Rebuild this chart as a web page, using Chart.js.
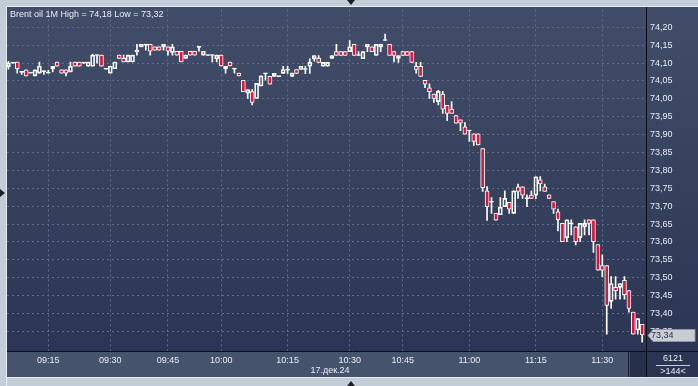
<!DOCTYPE html>
<html>
<head>
<meta charset="utf-8">
<script src="https://cdn.jsdelivr.net/npm/chart.js@4.4.1/dist/chart.umd.min.js"></script>
<style>
  html, body { margin: 0; padding: 0; background: #c3cdd9; }
  #wrap { width: 698px; height: 386px; position: relative; }
</style>
</head>
<body>
<div id="wrap"><canvas id="chart" width="698" height="386"></canvas></div>
<script>
// Brent oil, 1 minute candles, 17 Dec 2024
const opens = [
  74.090, 74.100, 74.103, 74.075, 74.081, 74.073, 74.064, 74.072, 74.077, 74.072,
  74.084, 74.103, 74.081, 74.081, 74.075, 74.103, 74.103, 74.100, 74.091, 74.091,
  74.122, 74.122, 74.084, 74.072, 74.084, 74.122, 74.113, 74.103, 74.103, 74.131,
  74.145, 74.152, 74.152, 74.145, 74.145, 74.145, 74.145, 74.130, 74.133, 74.133,
  74.113, 74.133, 74.133, 74.145, 74.122, 74.122, 74.122, 74.112, 74.122, 74.084,
  74.103, 74.084, 74.072, 74.052, 74.016, 74.020, 74.001, 74.036, 74.071, 74.063,
  74.063, 74.063, 74.071, 74.080, 74.063, 74.082, 74.082, 74.082, 74.091, 74.112,
  74.113, 74.091, 74.091, 74.113, 74.132, 74.132, 74.132, 74.132, 74.152, 74.121,
  74.112, 74.145, 74.145, 74.121, 74.145, 74.163, 74.152, 74.132, 74.113, 74.132,
  74.132, 74.132, 74.091, 74.091, 74.052, 74.031, 74.013, 73.992, 74.013, 73.982,
  73.971, 73.953, 73.941, 73.922, 73.911, 73.902, 73.902, 73.861, 73.743, 73.712,
  73.680, 73.676, 73.699, 73.711, 73.680, 73.754, 73.754, 73.722, 73.731, 73.731,
  73.774, 73.754, 73.732, 73.713, 73.684, 73.652, 73.612, 73.652, 73.642, 73.612,
  73.642, 73.662, 73.662, 73.593, 73.534, 73.534, 73.434, 73.473, 73.473, 73.493,
  73.464, 73.404, 73.354, 73.370
];
const highs = [
  74.105, 74.101, 74.103, 74.076, 74.081, 74.073, 74.081, 74.103, 74.077, 74.080,
  74.091, 74.103, 74.081, 74.081, 74.103, 74.103, 74.103, 74.100, 74.103, 74.125,
  74.122, 74.122, 74.084, 74.091, 74.103, 74.122, 74.122, 74.122, 74.122, 74.152,
  74.152, 74.152, 74.152, 74.145, 74.145, 74.152, 74.145, 74.152, 74.133, 74.133,
  74.122, 74.133, 74.133, 74.145, 74.133, 74.122, 74.122, 74.122, 74.122, 74.091,
  74.103, 74.084, 74.072, 74.052, 74.026, 74.026, 74.043, 74.064, 74.071, 74.063,
  74.071, 74.063, 74.091, 74.091, 74.072, 74.082, 74.091, 74.091, 74.112, 74.121,
  74.121, 74.102, 74.102, 74.121, 74.152, 74.132, 74.132, 74.163, 74.152, 74.132,
  74.132, 74.152, 74.145, 74.152, 74.152, 74.181, 74.152, 74.132, 74.121, 74.132,
  74.132, 74.132, 74.102, 74.102, 74.052, 74.042, 74.013, 74.024, 74.021, 73.982,
  73.992, 73.953, 73.941, 73.934, 73.911, 73.902, 73.902, 73.861, 73.755, 73.724,
  73.680, 73.724, 73.743, 73.711, 73.743, 73.762, 73.754, 73.732, 73.743, 73.782,
  73.783, 73.762, 73.732, 73.713, 73.692, 73.652, 73.662, 73.662, 73.642, 73.652,
  73.662, 73.662, 73.662, 73.593, 73.564, 73.534, 73.503, 73.503, 73.484, 73.503,
  73.464, 73.404, 73.386, 73.370
];
const lows = [
  74.083, 74.099, 74.072, 74.068, 74.064, 74.072, 74.064, 74.072, 74.068, 74.072,
  74.075, 74.091, 74.072, 74.064, 74.075, 74.091, 74.091, 74.100, 74.091, 74.091,
  74.100, 74.091, 74.083, 74.072, 74.084, 74.113, 74.103, 74.103, 74.103, 74.122,
  74.145, 74.136, 74.122, 74.136, 74.136, 74.136, 74.122, 74.122, 74.122, 74.103,
  74.113, 74.122, 74.122, 74.133, 74.122, 74.121, 74.103, 74.103, 74.092, 74.072,
  74.092, 74.072, 74.064, 74.020, 74.001, 73.983, 74.001, 74.036, 74.052, 74.041,
  74.063, 74.062, 74.071, 74.071, 74.063, 74.071, 74.082, 74.070, 74.071, 74.105,
  74.102, 74.091, 74.091, 74.113, 74.121, 74.121, 74.121, 74.132, 74.121, 74.121,
  74.112, 74.132, 74.132, 74.121, 74.132, 74.163, 74.121, 74.103, 74.102, 74.121,
  74.121, 74.102, 74.072, 74.063, 74.031, 74.001, 73.990, 73.983, 73.959, 73.939,
  73.959, 73.932, 73.911, 73.901, 73.881, 73.870, 73.871, 73.741, 73.660, 73.680,
  73.661, 73.676, 73.699, 73.680, 73.680, 73.722, 73.722, 73.699, 73.722, 73.721,
  73.743, 73.741, 73.722, 73.680, 73.631, 73.601, 73.601, 73.620, 73.592, 73.601,
  73.620, 73.620, 73.571, 73.521, 73.503, 73.342, 73.414, 73.440, 73.440, 73.440,
  73.404, 73.342, 73.342, 73.320
];
const closes = [
  74.100, 74.101, 74.084, 74.074, 74.064, 74.072, 74.081, 74.091, 74.076, 74.073,
  74.091, 74.091, 74.072, 74.072, 74.091, 74.091, 74.091, 74.101, 74.103, 74.122,
  74.121, 74.091, 74.083, 74.091, 74.103, 74.113, 74.103, 74.122, 74.122, 74.136,
  74.152, 74.150, 74.133, 74.136, 74.136, 74.152, 74.133, 74.145, 74.122, 74.103,
  74.122, 74.122, 74.122, 74.144, 74.133, 74.121, 74.121, 74.122, 74.092, 74.091,
  74.092, 74.083, 74.064, 74.020, 74.026, 73.990, 74.043, 74.064, 74.070, 74.041,
  74.071, 74.062, 74.082, 74.082, 74.072, 74.071, 74.091, 74.083, 74.102, 74.121,
  74.102, 74.102, 74.102, 74.121, 74.121, 74.121, 74.121, 74.145, 74.121, 74.122,
  74.132, 74.152, 74.132, 74.152, 74.152, 74.164, 74.121, 74.121, 74.121, 74.121,
  74.121, 74.102, 74.082, 74.063, 74.041, 74.020, 74.001, 74.021, 73.971, 73.959,
  73.959, 73.932, 73.932, 73.901, 73.910, 73.881, 73.871, 73.752, 73.699, 73.711,
  73.661, 73.697, 73.722, 73.692, 73.743, 73.741, 73.731, 73.721, 73.722, 73.782,
  73.762, 73.741, 73.722, 73.692, 73.662, 73.601, 73.662, 73.651, 73.601, 73.652,
  73.652, 73.652, 73.601, 73.521, 73.521, 73.423, 73.484, 73.464, 73.484, 73.453,
  73.414, 73.342, 73.386, 73.340
];

// x ticks sit on the bar index of each quarter hour
const tickIndex = [9, 23, 36, 48, 63, 77, 89, 104, 119, 134];
const tickLabels = ['09:15', '09:30', '09:45', '10:00', '10:15', '10:30', '10:45', '11:00', '11:15', '11:30'];
const yTicks = [73.35, 73.40, 73.45, 73.50, 73.55, 73.60, 73.65, 73.70, 73.75, 73.80,
  73.85, 73.90, 73.95, 74.00, 74.05, 74.10, 74.15, 74.20];

const titleText = 'Brent oil 1M High = 74,18 Low = 73,32';
const dateLabel = '17.дек.24';
const volumeText = '6121';
const barsText = '>144<';

const fmt = v => v.toFixed(2).replace('.', ',');

const bodies = opens.map((o, i) => ({ x: i, y: [Math.min(o, closes[i]), Math.max(o, closes[i])] }));
const upperWicks = opens.map((o, i) => ({ x: i, y: [Math.max(o, closes[i]), highs[i]] }));
const lowerWicks = opens.map((o, i) => ({ x: i, y: [lows[i], Math.min(o, closes[i])] }));
const bodyColors = opens.map((o, i) => {
  if (Math.abs(closes[i] - o) < 0.0025) return '#ffffff';
  return closes[i] < o ? '#dc143c' : 'rgba(0,0,0,0)';
});

const FONT = 'Arial, "Liberation Sans", sans-serif';
Chart.defaults.font.family = FONT;
Chart.defaults.font.size = 9;

const framePlugin = {
  id: 'frame',
  beforeDraw(chart) {
    const c = chart.ctx;
    const a = chart.chartArea;
    c.save();
    c.fillStyle = '#c3cdd9';
    c.fillRect(0, 0, 698, 386);
    // panel
    const g = c.createLinearGradient(0, 7, 0, 377);
    g.addColorStop(0, '#414d69');
    g.addColorStop(1, '#2a3452');
    c.fillStyle = g;
    c.fillRect(7, 7, 691, 370);
    // time strip
    c.fillStyle = '#46536c';
    c.fillRect(7, a.bottom, a.right - 7, 377 - a.bottom);
    c.fillStyle = '#26304a';
    c.fillRect(630, a.bottom + 1, 16, 377 - a.bottom - 1);
    c.strokeStyle = '#1a2030';
    c.lineWidth = 1;
    c.beginPath(); c.moveTo(628.5, a.bottom); c.lineTo(628.5, 377); c.stroke();
    // light edge
    c.strokeStyle = '#e6ecf2';
    c.beginPath(); c.moveTo(6.5, 386); c.lineTo(6.5, 6.5); c.lineTo(698, 6.5); c.stroke();
    c.beginPath(); c.moveTo(6.5, 377.5); c.lineTo(698, 377.5); c.stroke();
    c.restore();
  },
  afterDraw(chart) {
    const c = chart.ctx;
    const a = chart.chartArea;
    const y = chart.scales.y;
    c.save();
    // separators
    c.strokeStyle = '#0b0e16';
    c.lineWidth = 1;
    c.beginPath(); c.moveTo(a.right + 0.5, 7); c.lineTo(a.right + 0.5, 377); c.stroke();
    c.beginPath(); c.moveTo(7, a.bottom + 0.5); c.lineTo(698, a.bottom + 0.5); c.stroke();
    // title
    c.fillStyle = '#e8edf3';
    c.font = '9px ' + FONT;
    c.textBaseline = 'middle';
    c.textAlign = 'left';
    c.fillText(titleText, 10, 14.5);
    // date under the time axis
    c.textAlign = 'center';
    c.fillText(dateLabel, 330, 371);
    // bottom right box
    c.fillText(volumeText, 673, 359);
    c.fillText(barsText, 673, 372);
    c.strokeStyle = '#c8d0dc';
    c.beginPath(); c.moveTo(656, 365.5); c.lineTo(690, 365.5); c.stroke();
    // last price marker
    const last = closes[closes.length - 1];
    const py = Math.round(y.getPixelForValue(last)) + 0.5;
    c.fillStyle = '#c9cdd3';
    c.strokeStyle = '#8c96a6';
    c.beginPath();
    c.moveTo(a.right + 2, py);
    c.lineTo(a.right + 7, py - 6);
    c.lineTo(695, py - 6);
    c.lineTo(695, py + 6);
    c.lineTo(a.right + 7, py + 6);
    c.closePath();
    c.fill(); c.stroke();
    c.fillStyle = '#27324c';
    c.textAlign = 'left';
    c.fillText(fmt(last), a.right + 5, py + 0.5);
    // small frame arrows
    c.fillStyle = '#1c1f26';
    c.beginPath(); c.moveTo(347, 0); c.lineTo(355, 0); c.lineTo(351, 5); c.closePath(); c.fill();
    c.beginPath(); c.moveTo(347, 386); c.lineTo(355, 386); c.lineTo(351, 381); c.closePath(); c.fill();
    c.beginPath(); c.moveTo(0, 189); c.lineTo(0, 197); c.lineTo(5, 193); c.closePath(); c.fill();
    c.restore();
  }
};

new Chart(document.getElementById('chart'), {
  type: 'bar',
  data: {
    datasets: [
      {
        data: bodies,
        backgroundColor: bodyColors,
        borderColor: '#ffffff',
        borderWidth: 1,
        borderSkipped: false,
        barThickness: 4,
        minBarLength: 1
      },
      { data: upperWicks, backgroundColor: '#ffffff', barThickness: 1 },
      { data: lowerWicks, backgroundColor: '#ffffff', barThickness: 1 }
    ]
  },
  options: {
    responsive: false,
    devicePixelRatio: 1,
    animation: false,
    events: [],
    layout: { padding: { left: 7, top: 7, right: 0, bottom: 9 } },
    datasets: { bar: { grouped: false } },
    plugins: { legend: { display: false }, tooltip: { enabled: false } },
    scales: {
      x: {
        type: 'linear',
        min: -0.316,
        max: 143.86,
        offset: false,
        afterBuildTicks: s => { s.ticks = tickIndex.map(v => ({ value: v })); },
        afterFit: s => { s.height = 26; },
        ticks: {
          autoSkip: false,
          maxRotation: 0,
          padding: 4,
          color: '#e8edf3',
          callback: v => tickLabels[tickIndex.indexOf(v)]
        },
        grid: { offset: false, drawTicks: false, color: '#5f6d8c', lineWidth: 1 },
        border: { display: false, dash: [2, 3] }
      },
      y: {
        position: 'right',
        min: 73.2953,
        max: 74.24995,
        afterBuildTicks: s => { s.ticks = yTicks.map(v => ({ value: v })); },
        afterFit: s => { s.width = 52; },
        ticks: {
          padding: 4,
          color: '#e8edf3',
          callback: v => fmt(v)
        },
        grid: { drawTicks: false, color: '#5f6d8c', lineWidth: 1 },
        border: { display: false, dash: [2, 3] }
      }
    }
  },
  plugins: [framePlugin]
});
</script>
</body>
</html>
